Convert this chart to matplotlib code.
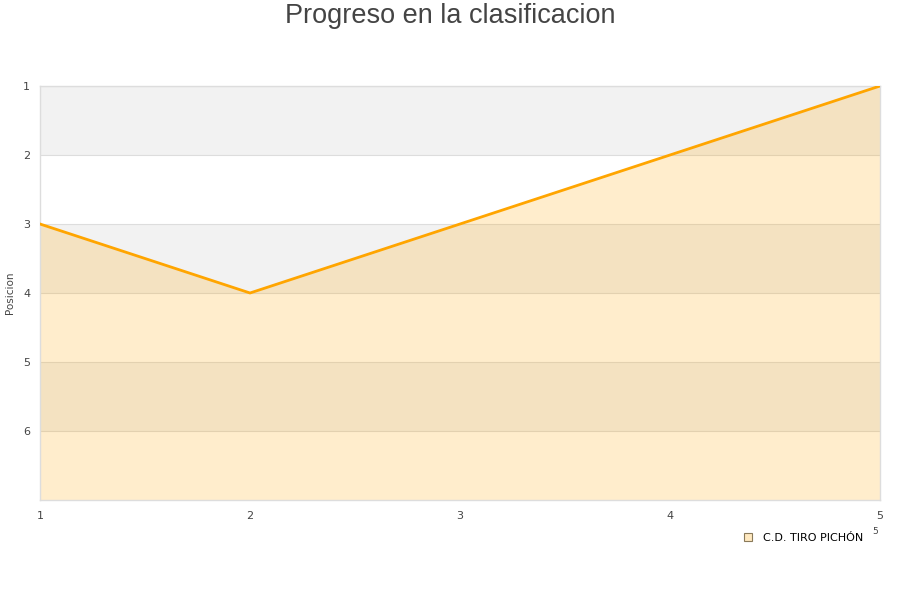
import matplotlib.pyplot as plt
import matplotlib.patches as mpatches

# Jornadas y posicion en la tabla
jornadas = [1, 2, 3, 4, 5]
posiciones = [3, 4, 3, 2, 1]
equipo = "C.D. TIRO PICHÓN"
y_ticks = [1, 2, 3, 4, 5, 6]

orange = "#ffa500"
grid_col = "#dddddd"
text_col = "#444444"

fig = plt.figure(figsize=(9, 6), dpi=100)
ax = fig.add_axes([40 / 900, 100 / 600, 840 / 900, 414 / 600])

# alternating bands
for lo in (1, 3, 5):
    ax.axhspan(lo, lo + 1, color="#f2f2f2", zorder=0, lw=0)

ax.fill_between(jornadas, posiciones, 7, color=orange, alpha=0.2, lw=0, zorder=2)
ax.plot(jornadas, posiciones, color=orange, lw=2, zorder=3)

ax.set_xlim(1, 5)
ax.set_ylim(7, 1)
ax.set_yticks(y_ticks)
ax.set_xticks(jornadas)
ax.grid(True, axis="y", color=grid_col, lw=0.8, zorder=1)
ax.set_axisbelow(True)
ax.tick_params(length=0, labelsize=8, colors=text_col, pad=7)
ax.tick_params(axis="x", pad=8)
for s in ax.spines.values():
    s.set_color(grid_col)
    s.set_linewidth(1)

ax.yaxis.set_label_coords(-25 / 840, 0.5)
ax.set_ylabel("Posicion", fontsize=7.5, color=text_col)
fig.text(0.5, 1 - 16 / 600, "Progreso en la clasificacion", ha="center", va="center",
         fontsize=19.5, color=text_col, family="Liberation Sans")

handle = mpatches.Patch(facecolor="#ffe9c0", edgecolor="#8a7a5a", lw=0.8)
fig.legend([handle], [equipo], loc="center left", bbox_to_anchor=(734 / 900, 1 - 538 / 600),
           frameon=False, fontsize=8, handlelength=0.7, handleheight=0.7,
           handletextpad=1.0)
fig.text(875 / 900, 1 - 532 / 600, "5", fontsize=6.5, color=text_col, ha="center", va="center")

fig.savefig("out.png", dpi=100)
